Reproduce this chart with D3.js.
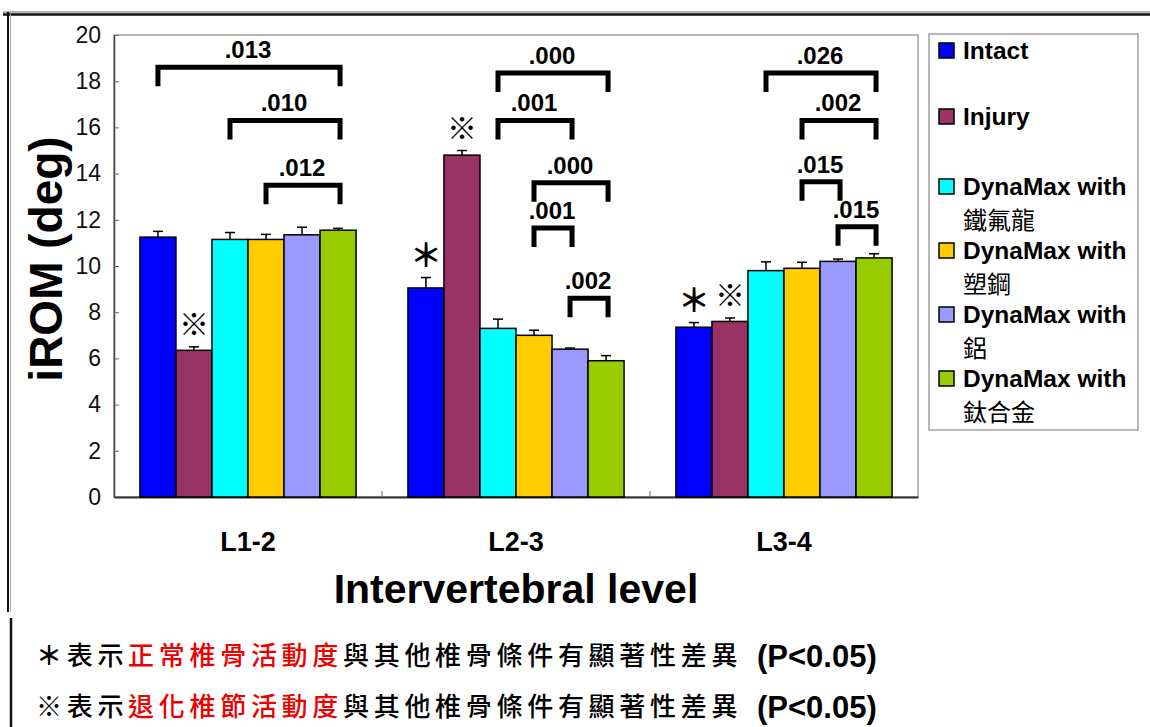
<!DOCTYPE html>
<html>
<head>
<meta charset="utf-8">
<script src="https://cdn.jsdelivr.net/npm/d3@7"></script>
<style>
  body { margin: 0; background: #fff; }
  svg text { font-family: "Liberation Sans", Arial, sans-serif; }
  .cjk { font-family: "Noto Sans CJK TC", "Noto Sans CJK SC", sans-serif !important; }
</style>
</head>
<body>
<div id="chart-area"></div>
<script>

// Data
var levels = ["L1-2", "L2-3", "L3-4"];
var seriesNames = ["Intact", "Injury", "DynaMax with 鐵氟龍", "DynaMax with 塑鋼", "DynaMax with 鋁", "DynaMax with 鈦合金"];
var seriesColors = ["#0000ff", "#993366", "#00ffff", "#ffcc00", "#9999ff", "#99cc00"];

var intact   = [11.25, 9.05, 7.35];
var injury   = [6.35, 14.8, 7.6];
var teflon   = [11.15, 7.3, 9.8];
var plastic  = [11.15, 7.0, 9.9];
var aluminum = [11.35, 6.4, 10.2];
var titanium = [11.55, 5.9, 10.35];

var intactErr   = [0.25, 0.45, 0.2];
var injuryErr   = [0.15, 0.2, 0.15];
var teflonErr   = [0.3, 0.4, 0.38];
var plasticErr  = [0.22, 0.22, 0.26];
var aluminumErr = [0.33, 0.05, 0.1];
var titaniumErr = [0.08, 0.22, 0.18];

var yTicks = [0, 2, 4, 6, 8, 10, 12, 14, 16, 18, 20];

// brackets: level, from series, to series, height (deg), p value
var brackets = [
    [0, 0, 5, 18.6, ".013"],
    [0, 2, 5, 16.3, ".010"],
    [0, 3, 5, 13.5, ".012"],
    [1, 2, 5, 18.35, ".000"],
    [1, 2, 4, 16.3, ".001"],
    [1, 3, 5, 13.6, ".000"],
    [1, 3, 4, 11.65, ".001"],
    [1, 4, 5, 8.6, ".002"],
    [2, 2, 5, 18.35, ".026"],
    [2, 3, 5, 16.3, ".002"],
    [2, 3, 4, 13.65, ".015"],
    [2, 4, 5, 11.7, ".015"]
];

// significance marks: level, series, symbol
var marks = [
    [0, 1, "※"],
    [1, 0, "＊"],
    [1, 1, "※"],
    [2, 0, "＊"],
    [2, 1, "※"]
];

var noteLines = [
    ["＊表示", "正常椎骨活動度", "與其他椎骨條件有顯著性差異"],
    ["※表示", "退化椎節活動度", "與其他椎骨條件有顯著性差異"]
];
var noteP = "(P<0.05)";

var means = [intact, injury, teflon, plastic, aluminum, titanium];
var errs = [intactErr, injuryErr, teflonErr, plasticErr, aluminumErr, titaniumErr];

var bars = [];
levels.forEach(function(lv, i) {
    seriesNames.forEach(function(s, j) {
        bars.push({level: lv, li: i, series: j, value: means[j][i], err: errs[j][i]});
    });
});

// Set up SVG
var W = 1150, H = 727;
var plot = {left: 114, right: 918, top: 35, bottom: 497};

var svg = d3.select("#chart-area").append("svg")
    .attr("width", W)
    .attr("height", H);

// outer frame of the slide
svg.append("line").attr("x1", 3).attr("x2", W).attr("y1", 12).attr("y2", 12)
    .attr("stroke", "#999").attr("stroke-width", 1.5);
svg.append("line").attr("x1", 3).attr("x2", W).attr("y1", 14.5).attr("y2", 14.5)
    .attr("stroke", "#111").attr("stroke-width", 2.5);
svg.append("line").attr("x1", 8).attr("x2", 8).attr("y1", 12).attr("y2", 612)
    .attr("stroke", "#111").attr("stroke-width", 2);
svg.append("line").attr("x1", 10.5).attr("x2", 10.5).attr("y1", 14).attr("y2", 612)
    .attr("stroke", "#aaa").attr("stroke-width", 1);
svg.append("line").attr("x1", 11).attr("x2", 11).attr("y1", 618).attr("y2", H)
    .attr("stroke", "#111").attr("stroke-width", 2.5);

var x0 = d3.scaleBand()
    .domain(levels)
    .range([plot.left, plot.right]);

var x1 = d3.scaleBand()
    .domain(d3.range(seriesNames.length))
    .range([0, x0.bandwidth()])
    .paddingOuter(0.72);

var y = d3.scaleLinear()
    .domain([0, 20])
    .range([plot.bottom, plot.top]);

function barCenter(li, s) {
    return x0(levels[li]) + x1(s) + x1.bandwidth() / 2;
}

// plot frame
svg.append("rect")
    .attr("x", plot.left).attr("y", plot.top)
    .attr("width", plot.right - plot.left).attr("height", plot.bottom - plot.top)
    .attr("fill", "none").attr("stroke", "#888").attr("stroke-width", 1.2);

// y axis
var yAxis = d3.axisLeft(y).tickValues(yTicks).tickSizeInner(-5).tickSizeOuter(0).tickPadding(13);
var gy = svg.append("g").attr("transform", "translate(" + plot.left + ",0)").call(yAxis);
gy.select(".domain").attr("stroke", "#444").attr("stroke-width", 1.5);
gy.selectAll(".tick line").attr("stroke", "#666");
gy.selectAll(".tick text").attr("font-size", 23).attr("fill", "#111")
    .attr("font-family", "'Liberation Sans', Arial, sans-serif");

// x axis
var xAxis = d3.axisBottom(x0).tickSize(0).tickPadding(35);
var gx = svg.append("g").attr("transform", "translate(0," + plot.bottom + ")").call(xAxis);
gx.select(".domain").attr("stroke", "#333").attr("stroke-width", 2);
gx.selectAll(".tick text").attr("font-size", 27).attr("font-weight", "bold").attr("fill", "#000")
    .attr("font-family", "'Liberation Sans', Arial, sans-serif");

// group separator ticks
svg.selectAll(".sep")
    .data(levels.slice(1))
    .enter().append("line")
    .attr("class", "sep")
    .attr("x1", function(d) { return x0(d); })
    .attr("x2", function(d) { return x0(d); })
    .attr("y1", plot.bottom)
    .attr("y2", plot.bottom - 6)
    .attr("stroke", "#666");

// bars
svg.selectAll(".bar")
    .data(bars)
    .enter().append("rect")
    .attr("class", "bar")
    .attr("x", function(d) { return x0(d.level) + x1(d.series); })
    .attr("y", function(d) { return y(d.value); })
    .attr("width", x1.bandwidth())
    .attr("height", function(d) { return y(0) - y(d.value); })
    .attr("fill", function(d) { return seriesColors[d.series]; })
    .attr("stroke", "#000")
    .attr("stroke-width", 1.5);

// error bars (upper only)
var eb = svg.selectAll(".err")
    .data(bars)
    .enter().append("g")
    .attr("class", "err");
eb.append("line")
    .attr("x1", function(d) { return barCenter(d.li, d.series); })
    .attr("x2", function(d) { return barCenter(d.li, d.series); })
    .attr("y1", function(d) { return y(d.value); })
    .attr("y2", function(d) { return y(d.value + d.err); })
    .attr("stroke", "#000").attr("stroke-width", 1.5);
eb.append("line")
    .attr("x1", function(d) { return barCenter(d.li, d.series) - 5; })
    .attr("x2", function(d) { return barCenter(d.li, d.series) + 5; })
    .attr("y1", function(d) { return y(d.value + d.err); })
    .attr("y2", function(d) { return y(d.value + d.err); })
    .attr("stroke", "#000").attr("stroke-width", 1.5);

// significance brackets
var br = svg.selectAll(".bracket")
    .data(brackets)
    .enter().append("g")
    .attr("class", "bracket");
br.append("path")
    .attr("d", function(d) {
        var xa = barCenter(d[0], d[1]), xb = barCenter(d[0], d[2]) + 2, yy = y(d[3]);
        return "M" + xa + "," + (yy + 19) + "V" + yy + "H" + xb + "V" + (yy + 19);
    })
    .attr("fill", "none")
    .attr("stroke", "#000")
    .attr("stroke-width", 5)
    .attr("stroke-linejoin", "miter");
br.append("text")
    .attr("x", function(d) { return (barCenter(d[0], d[1]) + barCenter(d[0], d[2])) / 2; })
    .attr("y", function(d) { return y(d[3]) - 9; })
    .attr("text-anchor", "middle")
    .attr("font-size", 24)
    .attr("font-weight", "bold")
    .text(function(d) { return d[4]; });

// star / reference marks
svg.selectAll(".mark")
    .data(marks)
    .enter().append("text")
    .attr("class", "mark cjk")
    .attr("x", function(d) { return barCenter(d[0], d[1]); })
    .attr("y", function(d) {
        return y(means[d[1]][d[0]] + errs[d[1]][d[0]]) - (d[2] == "※" ? 12 : 11);
    })
    .attr("text-anchor", "middle")
    .attr("font-size", function(d) { return d[2] == "※" ? 30 : 32; })
    .attr("font-weight", "bold")
    .text(function(d) { return d[2]; });

// axis titles
svg.append("text")
    .attr("transform", "translate(62,259) rotate(-90)")
    .attr("text-anchor", "middle")
    .attr("font-size", 46)
    .attr("font-weight", "bold")
    .text("iROM (deg)");

svg.append("text")
    .attr("x", (plot.left + plot.right) / 2)
    .attr("y", 603)
    .attr("text-anchor", "middle")
    .attr("font-size", 41)
    .attr("font-weight", "bold")
    .text("Intervertebral level");

// legend
svg.append("rect")
    .attr("x", 929).attr("y", 34).attr("width", 209).attr("height", 396)
    .attr("fill", "#fff").attr("stroke", "#888").attr("stroke-width", 1.2);

var legendY = [59, 125, 195, 259, 323, 387];
var lg = svg.selectAll(".legend")
    .data(seriesNames)
    .enter().append("g")
    .attr("class", "legend")
    .attr("transform", function(d, i) { return "translate(939," + legendY[i] + ")"; });
lg.append("rect")
    .attr("x", 0).attr("y", -16).attr("width", 15).attr("height", 15)
    .attr("fill", function(d, i) { return seriesColors[i]; })
    .attr("stroke", "#000").attr("stroke-width", 1.5);
lg.append("text")
    .attr("x", 24).attr("y", 0)
    .attr("font-size", 24.5).attr("font-weight", "bold")
    .text(function(d) { return d.indexOf(" with ") > 0 ? "DynaMax with" : d; });
lg.filter(function(d, i) { return i >= 2; })
    .append("text")
    .attr("class", "cjk")
    .attr("x", 24).attr("y", 34)
    .attr("font-size", 24)
    .text(function(d) { return d.split(" ")[2]; });

// footnotes
noteLines.forEach(function(parts, i) {
    var by = 665 + i * 51;
    var t = svg.append("text")
        .attr("class", "cjk")
        .attr("x", 36).attr("y", by)
        .attr("font-size", 26)
        .attr("font-weight", 500)
        .attr("letter-spacing", 4.7);
    t.append("tspan").attr("fill", "#000").attr("font-weight", "bold").text(parts[0].charAt(0));
    t.append("tspan").attr("fill", "#000").text(parts[0].slice(1));
    t.append("tspan").attr("fill", "#ee0000").text(parts[1]);
    t.append("tspan").attr("fill", "#000").text(parts[2]);
    svg.append("text")
        .attr("x", 757).attr("y", by + 2)
        .attr("font-size", 31).attr("font-weight", "bold")
        .text(noteP);
});

</script>
</body>
</html>
